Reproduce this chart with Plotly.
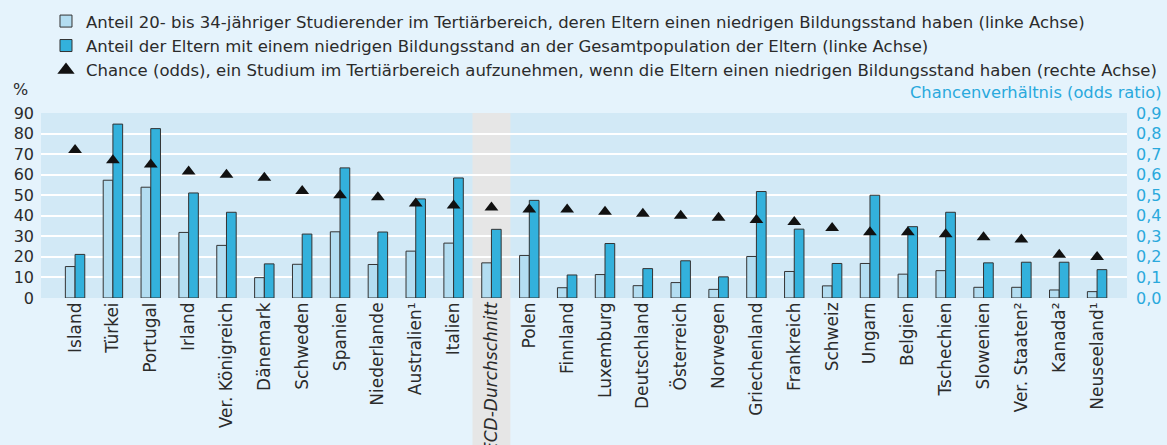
import plotly.graph_objects as go

categories = ["Island", "Türkei", "Portugal", "Irland", "Ver. Königreich", "Dänemark",
              "Schweden", "Spanien", "Niederlande", "Australien¹", "Italien",
              "OECD-Durchschnitt", "Polen", "Finnland", "Luxemburg", "Deutschland",
              "Österreich", "Norwegen", "Griechenland", "Frankreich", "Schweiz",
              "Ungarn", "Belgien", "Tschechien", "Slowenien", "Ver. Staaten²",
              "Kanada²", "Neuseeland¹"]

studierende = [15.3, 57.3, 53.9, 31.9, 25.6, 9.9, 16.4, 32.2, 16.3, 22.8, 26.7,
               17.1, 20.7, 5.0, 11.4, 6.0, 7.5, 4.2, 20.2, 12.9, 5.9,
               16.8, 11.6, 13.3, 5.2, 5.2, 3.9, 3.1]

eltern = [21.2, 84.6, 82.4, 51.1, 41.7, 16.6, 31.1, 63.3, 32.1, 48.2, 58.4,
          33.4, 47.5, 11.2, 26.5, 14.3, 18.1, 10.3, 51.8, 33.5, 16.8,
          50.0, 34.7, 41.7, 17.1, 17.4, 17.4, 13.8]

odds = [0.72, 0.67, 0.65, 0.615, 0.60, 0.585, 0.52, 0.50, 0.49, 0.46, 0.45,
        0.44, 0.43, 0.43, 0.42, 0.41, 0.40, 0.39, 0.38, 0.37, 0.34,
        0.32, 0.32, 0.31, 0.295, 0.285, 0.21, 0.20]

tick_text = ["<i>OECD-Durchschnitt</i>" if c == "OECD-Durchschnitt" else c for c in categories]

left_ticks = [0, 10, 20, 30, 40, 50, 60, 70, 80, 90]
right_ticks = [0.0, 0.1, 0.2, 0.3, 0.4, 0.5, 0.6, 0.7, 0.8, 0.9]

legend_names = [
    "Anteil 20- bis 34-jähriger Studierender im Tertiärbereich, deren Eltern einen niedrigen Bildungsstand haben (linke Achse)",
    "Anteil der Eltern mit einem niedrigen Bildungsstand an der Gesamtpopulation der Eltern (linke Achse)",
    "Chance (odds), ein Studium im Tertiärbereich aufzunehmen, wenn die Eltern einen niedrigen Bildungsstand haben (rechte Achse)",
]

FONT = "DejaVu Sans"
TEXT = "#2b2b2b"
CYAN = "#2aa9dc"
LIGHT = "#b3ddf1"
DARK = "#33b1dc"
PAPER = "#e5f3fc"
PLOTBG = "#d2e9f6"

fig = go.Figure()
fig.add_trace(go.Bar(x=categories, y=studierende, name=legend_names[0],
                     marker=dict(color=LIGHT, line=dict(color="#333333", width=1))))
fig.add_trace(go.Bar(x=categories, y=eltern, name=legend_names[1],
                     marker=dict(color=DARK, line=dict(color="#333333", width=1))))
fig.add_trace(go.Scatter(x=categories, y=odds, yaxis="y2", mode="markers",
                         name=legend_names[2], showlegend=False,
                         marker=dict(symbol="triangle-up", size=12, color="#111111")))
# legend-only proxy for a larger legend symbol
fig.add_trace(go.Scatter(x=[None], y=[None], yaxis="y2", mode="markers",
                         name=legend_names[2],
                         marker=dict(symbol="triangle-up", size=15, color="#111111")))

fig.add_shape(type="rect", xref="x", yref="paper", x0=10.5, x1=11.5, y0=-1.0, y1=1.0,
              fillcolor="#e6e6e6", line=dict(width=0), layer="below")

fig.update_layout(
    width=1167, height=445,
    margin=dict(l=41, r=40, t=113, b=147, autoexpand=False),
    paper_bgcolor=PAPER, plot_bgcolor=PLOTBG,
    font=dict(family=FONT, size=16, color=TEXT),
    separators=",.",
    barmode="group", bargap=0.487, bargroupgap=0,
    showlegend=True,
    legend=dict(x=0.0046, y=1.59, xanchor="left", yanchor="top",
                bgcolor="rgba(0,0,0,0)", font=dict(size=16.5, color=TEXT),
                tracegroupgap=0, itemwidth=30, traceorder="normal"),
    xaxis=dict(range=[-0.9, 27.79], tickangle=-90, tickvals=categories, ticktext=tick_text,
               showgrid=False, zeroline=False, showline=False, ticks="",
               tickfont=dict(size=17, color=TEXT), automargin=False),
    yaxis=dict(range=[0, 90], tickvals=left_ticks, showgrid=True, gridcolor="white",
               gridwidth=2, zeroline=False, showline=False, ticks="",
               ticklabelstandoff=6, tickfont=dict(size=16, color=TEXT), automargin=False),
    yaxis2=dict(range=[0, 0.9], tickvals=right_ticks, tickformat=".1f", overlaying="y",
                side="right", showgrid=False, zeroline=False, showline=False, ticks="",
                ticklabelstandoff=8, tickfont=dict(size=16, color=CYAN), automargin=False),
    annotations=[
        dict(text="%", xref="paper", yref="paper", x=-0.0193, y=1.125,
             xanchor="center", yanchor="middle", showarrow=False,
             font=dict(size=16, color=TEXT)),
        dict(text="Chancenverhältnis (odds ratio)", xref="paper", yref="paper",
             x=1.034, y=1.113, xanchor="right", yanchor="middle", showarrow=False,
             font=dict(size=16.3, color=CYAN)),
    ],
)

fig.write_html("out.html", config={"displayModeBar": False},
               post_script="document.body.style.margin='0';document.body.style.overflow='hidden';")
